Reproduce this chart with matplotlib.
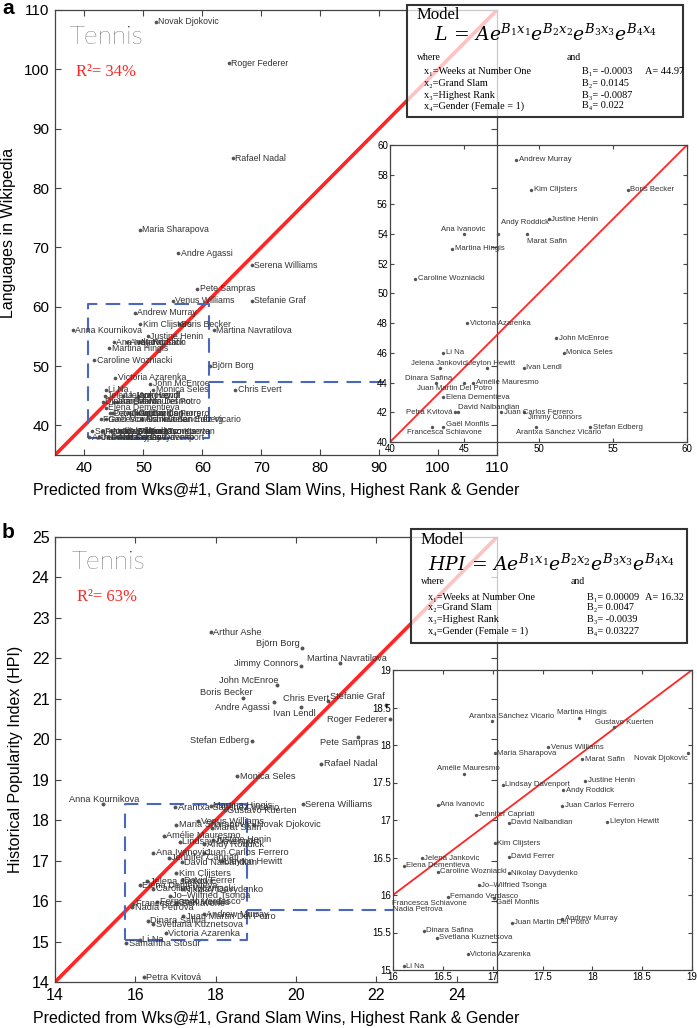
import matplotlib
matplotlib.use('Agg')
import matplotlib.pyplot as plt
from matplotlib.patches import Rectangle

plt.rcParams['font.family'] = ['Liberation Sans', 'DejaVu Sans']
plt.rcParams['mathtext.fontset'] = 'dejavuserif'

# ---------------- data ----------------
players = [
    "Arthur Ashe", "Björn Borg", "Jimmy Connors", "Martina Navratilova", "John McEnroe",
    "Boris Becker", "Andre Agassi", "Chris Evert", "Stefanie Graf", "Ivan Lendl",
    "Roger Federer", "Stefan Edberg", "Pete Sampras", "Rafael Nadal", "Monica Seles",
    "Anna Kournikova", "Serena Williams", "Novak Djokovic", "Arantxa Sánchez Vicario",
    "Martina Hingis", "Gustavo Kuerten", "Venus Williams", "Maria Sharapova", "Marat Safin",
    "Amélie Mauresmo", "Lindsay Davenport", "Justine Henin", "Andy Roddick", "Ana Ivanovic",
    "Juan Carlos Ferrero", "Jennifer Capriati", "David Nalbandian", "Lleyton Hewitt",
    "Kim Clijsters", "David Ferrer", "Jelena Jankovic", "Elena Dementieva",
    "Caroline Wozniacki", "Nikolay Davydenko", "Jo–Wilfried Tsonga", "Fernando Verdasco",
    "Gaël Monfils", "Francesca Schiavone", "Nadia Petrova", "Juan Martin Del Potro",
    "Andrew Murray", "Dinara Safina", "Svetlana Kuznetsova", "Victoria Azarenka", "Li Na",
    "Samantha Stosur", "Petra Kvitová",
]

# Panel a: predicted vs. number of Wikipedia language editions
lang_pred = [
    40.8, 61.3, 49.0, 61.9, 51.2,
    56.0, 55.9, 65.6, 68.4, 49.0,
    64.5, 53.5, 59.1, 65.2, 51.7,
    38.0, 68.4, 52.1, 49.8,
    44.2, 50.5, 55.0, 49.4, 49.2,
    45.6, 47.5, 50.7, 47.3, 45.0,
    47.5, 42.5, 44.6, 46.5,
    49.5, 44.0, 43.4, 43.6,
    41.7, 45.5, 46.0, 43.0,
    43.6, 42.8, 44.5, 45.0,
    48.5, 43.1, 47.0, 45.2, 43.6,
    41.3, 44.4,
]
lang_actual = [
    38, 50, 42, 56, 47,
    57, 69, 46, 61, 45,
    101, 41, 63, 85, 46,
    56, 67, 108, 41,
    53, 39, 61, 73, 54,
    44, 38, 55, 54, 54,
    42, 38, 42, 45,
    57, 38, 45, 43,
    51, 38, 39, 39,
    41, 41, 39, 44,
    59, 44, 39, 48, 46,
    39, 42,
]

# Panel b: predicted vs. Historical Popularity Index
hpi_pred = [
    17.88, 20.14, 20.12, 21.09, 19.52,
    18.68, 19.45, 20.79, 22.23, 20.12,
    22.33, 18.90, 21.54, 20.62, 18.53,
    15.19, 20.17, 18.96, 16.99,
    17.87, 18.22, 17.56, 17.02, 17.90,
    16.71, 17.10, 17.93, 17.71, 16.45,
    17.70, 16.83, 17.16, 18.15,
    17.02, 17.16, 16.29, 16.11,
    16.45, 17.16, 16.86, 16.55,
    17.01, 15.95, 15.92, 17.19,
    17.70, 16.31, 16.44, 16.75, 16.11,
    15.77, 16.21,
]
hpi_actual = [
    22.65, 22.26, 21.81, 21.89, 21.34,
    21.02, 20.92, 20.95, 20.85, 20.80,
    20.50, 19.96, 20.06, 19.39, 19.09,
    18.40, 18.40, 17.89, 18.32,
    18.36, 18.24, 17.97, 17.89, 17.81,
    17.62, 17.47, 17.52, 17.40, 17.20,
    17.19, 17.07, 16.96, 16.98,
    16.69, 16.51, 16.49, 16.39,
    16.31, 16.29, 16.13, 15.98,
    15.96, 15.93, 15.85, 15.63,
    15.68, 15.52, 15.43, 15.21, 15.05,
    14.96, 14.12,
]

lang_eq = r'$L\,=\,Ae^{B_1x_1}e^{B_2x_2}e^{B_3x_3}e^{B_4x_4}$'
hpi_eq = r'$HPI\,=\,Ae^{B_1x_1}e^{B_2x_2}e^{B_3x_3}e^{B_4x_4}$'
var_lines = ["x₁=Weeks at Number One", "x₂=Grand Slam", "x₃=Highest Rank", "x₄=Gender (Female = 1)"]
lang_coefs = ["B₁= -0.0003", "B₂= 0.0145", "B₃= -0.0087", "B₄= 0.022"]
lang_A = "A= 44.97"
hpi_coefs = ["B₁= 0.00009", "B₂= 0.0047", "B₃= -0.0039", "B₄= 0.03227"]
hpi_A = "A= 16.32"
lang_r2 = "R²= 34%"
hpi_r2 = "R²= 63%"

# ---------------- styling / layout ----------------
W, H = 697, 1028
fig = plt.figure(figsize=(W / 100, H / 100), dpi=100)


def fx(px):
    return px / W


def fy(py):
    return 1 - py / H


def axes_px(x0, y0, x1, y1):
    return [fx(x0), fy(y1), fx(x1) - fx(x0), fy(y0) - fy(y1)]


RED = '#ff2525'
BLUE = '#4a68c0'
DOT = '#555555'
TXT = '#333333'
SPINE = '#444444'
SERIF = ['Liberation Serif', 'DejaVu Serif']

# label offsets in points: (dx, dy, ha)
main_a_off = {}
inset_a_off = {
    "Andy Roddick": (2, 8.5, 'left'),
    "Marat Safin": (0, -5, 'left'),
    "Ana Ivanovic": (-17, 3, 'left'),
    "Jelena Jankovic": (-21.5, 3, 'left'),
    "Lleyton Hewitt": (-14.5, 3, 'left'),
    "Dinara Safina": (-22, 3, 'left'),
    "Juan Martin Del Potro": (-34, -4.3, 'left'),
    "Petra Kvitová": (-2, 0, 'right'),
    "David Nalbandian": (0, 3.6, 'left'),
    "Jimmy Connors": (3, -3.6, 'left'),
    "Gaël Monfils": (2, 2, 'left'),
    "Francesca Schiavone": (-18, -3.6, 'left'),
    "Arantxa Sánchez Vicario": (-14, -3.6, 'left'),
}
main_b_off = {
    "Björn Borg": (-1.5, 3, 'right'),
    "Jimmy Connors": (-1.5, 2, 'right'),
    "Martina Navratilova": (-24, 3, 'left'),
    "John McEnroe": (1.5, 3, 'right'),
    "Boris Becker": (7, 4, 'right'),
    "Andre Agassi": (-3, -4, 'right'),
    "Chris Evert": (1, 2, 'right'),
    "Stefanie Graf": (-1, 6, 'right'),
    "Ivan Lendl": (-20, -5, 'left'),
    "Roger Federer": (-2, 0, 'right'),
    "Stefan Edberg": (-2, 0, 'right'),
    "Pete Sampras": (-27, -4, 'left'),
    "Anna Kournikova": (-24, 3, 'left'),
}
inset_b_off = {
    "Arantxa Sánchez Vicario": (-16.5, 3.6, 'left'),
    "Martina Hingis": (-16, 3.6, 'left'),
    "Gustavo Kuerten": (-14, 3.6, 'left'),
    "Amélie Mauresmo": (-19, 3.6, 'left'),
    "Gaël Monfils": (2, -3.6, 'left'),
    "Francesca Schiavone": (3, -2, 'left'),
    "Nadia Petrova": (6, -2, 'left'),
    "Novak Djokovic": (0, -3.5, 'right'),
}
inset_b_force = {"Francesca Schiavone", "Nadia Petrova"}


def style_axes(ax, labelsize, length, pad):
    ax.tick_params(direction='in', top=True, right=True, length=length, width=0.8,
                   labelsize=labelsize, colors='black', pad=pad)
    ax.tick_params(axis='both', color=SPINE)
    for s in ax.spines.values():
        s.set_color(SPINE)
        s.set_linewidth(0.9)


def draw_points(ax, xs, ys, offs, fs, ms, force=()):
    ax.scatter(xs, ys, s=ms, color=DOT, zorder=4, linewidths=0)
    for n, x, y in zip(players, xs, ys):
        dx, dy, ha = offs.get(n, (1.8, 0, 'left'))
        ax.annotate(n, (x, y), xytext=(dx, dy), textcoords='offset points', ha=ha,
                    va='center', fontsize=fs, color=TXT, zorder=5,
                    annotation_clip=(False if n in force else None))


def model_box(x0, y0, x1, y1, eq, eq_xy, coefs, A, rows):
    fig.patches.append(Rectangle((fx(x0), fy(y1)), fx(x1) - fx(x0), fy(y0) - fy(y1),
                                 transform=fig.transFigure, facecolor='white', alpha=0.72,
                                 edgecolor='none', zorder=6))
    fig.patches.append(Rectangle((fx(x0), fy(y1)), fx(x1) - fx(x0), fy(y0) - fy(y1),
                                 transform=fig.transFigure, facecolor='none',
                                 edgecolor='#333333', linewidth=1.5, zorder=7))
    fig.text(fx(rows['mx']), fy(rows['my']), "Model", fontsize=12, family=SERIF,
             ha='left', va='center', zorder=8)
    fig.text(fx(eq_xy[0]), fy(eq_xy[1]), eq, fontsize=13.5, ha='center', va='center',
             zorder=8)
    fig.text(fx(rows['mx']), fy(rows['wy']), "where", fontsize=7, family=SERIF,
             ha='left', va='center', zorder=8)
    fig.text(fx(rows['ax']), fy(rows['wy']), "and", fontsize=7, family=SERIF,
             ha='left', va='center', zorder=8)
    for i, (v, c) in enumerate(zip(var_lines, coefs)):
        yy = rows['ly'][i]
        fig.text(fx(rows['lx']), fy(yy), v, fontsize=7.4, family=SERIF, ha='left',
                 va='center', zorder=8)
        fig.text(fx(rows['cx']), fy(yy), c, fontsize=7.4, family=SERIF, ha='left',
                 va='center', zorder=8)
    fig.text(fx(rows['Ax']), fy(rows['ly'][0]), A, fontsize=7.4, family=SERIF, ha='left',
             va='center', zorder=8)


def dashed_box(ax, x0, x1, y0, y1, yc, xc_end):
    kw = dict(color=BLUE, lw=1.5, dashes=(7, 4), zorder=3)
    ax.plot([x0, x1, x1, x0, x0], [y0, y0, y1, y1, y0], **kw)
    ax.plot([x1, xc_end], [yc, yc], **kw)


# ================= Panel a =================
ax_a = fig.add_axes(axes_px(55, 10, 497, 455))
lim_a = (35, 110)
ax_a.set_xlim(lim_a)
ax_a.set_ylim(lim_a)
ax_a.plot(lim_a, lim_a, color=RED, lw=2.6, zorder=2)
draw_points(ax_a, lang_pred, lang_actual, main_a_off, 6.3, 7)
ax_a.set_xticks(range(40, 111, 10))
ax_a.set_yticks(range(40, 111, 10))
style_axes(ax_a, 11, 4, 4)
ax_a.set_xlabel("Predicted from Wks@#1, Grand Slam Wins, Highest Rank & Gender",
                fontsize=11.5, labelpad=6)
ax_a.set_ylabel("Languages in Wikipedia", fontsize=11.5, labelpad=6)
ax_a.text(0.034, 0.94, "Tennis", transform=ax_a.transAxes, fontsize=19,
          family=['Lato', 'Liberation Sans'], fontweight='light', color='#111111',
          ha='left', va='center')
ax_a.text(0.047, 0.861, lang_r2, transform=ax_a.transAxes, fontsize=12,
          family=SERIF, color=RED, ha='left', va='center')
# connector reaches inset left edge (px 390)
xc_a = lim_a[0] + (390 - 55) / (497 - 55) * (lim_a[1] - lim_a[0])
dashed_box(ax_a, 40.6, 61.1, 37.8, 60.5, 47.3, xc_a)

ins_a = fig.add_axes(axes_px(390, 145, 687, 442))
ins_a.set_facecolor('none')
ins_a.set_xlim(40, 60)
ins_a.set_ylim(40, 60)
ins_a.plot([40, 60], [40, 60], color=RED, lw=1.3, zorder=2)
draw_points(ins_a, lang_pred, lang_actual, inset_a_off, 5.6, 6)
ins_a.set_xticks(range(40, 61, 5))
ins_a.set_yticks(range(40, 61, 2))
style_axes(ins_a, 7, 3, 1.5)

model_box(407, 5, 683, 117, lang_eq, (546, 34), lang_coefs, lang_A,
          dict(mx=417, my=15, wy=57, ax=567, lx=424, cx=582, Ax=645,
               ly=[72, 83, 95, 106]))

fig.text(fx(2), fy(8), "a", fontsize=15, fontweight='bold', ha='left', va='center')

# ================= Panel b =================
ax_b = fig.add_axes(axes_px(55, 537, 497, 982))
lim_b = (14, 25)
ax_b.set_xlim(lim_b)
ax_b.set_ylim(lim_b)
ax_b.plot(lim_b, lim_b, color=RED, lw=2.6, zorder=2)
draw_points(ax_b, hpi_pred, hpi_actual, main_b_off, 6.7, 8)
ax_b.set_xticks(range(14, 25, 2))
ax_b.set_yticks(range(14, 26, 1))
style_axes(ax_b, 11.5, 4, 4)
ax_b.set_xlabel("Predicted from Wks@#1, Grand Slam Wins, Highest Rank & Gender",
                fontsize=11.5, labelpad=6)
ax_b.set_ylabel("Historical Popularity Index (HPI)", fontsize=11.5, labelpad=6)
ax_b.text(0.038, 0.944, "Tennis", transform=ax_b.transAxes, fontsize=19,
          family=['Lato', 'Liberation Sans'], fontweight='light', color='#111111',
          ha='left', va='center')
ax_b.text(0.05, 0.865, hpi_r2, transform=ax_b.transAxes, fontsize=12,
          family=SERIF, color=RED, ha='left', va='center')
xc_b = lim_b[0] + (393 - 55) / (497 - 55) * (lim_b[1] - lim_b[0])
dashed_box(ax_b, 15.74, 18.77, 15.04, 18.4, 15.78, xc_b)

ins_b = fig.add_axes(axes_px(393, 670, 692, 970))
ins_b.set_facecolor('none')
ins_b.set_xlim(16, 19)
ins_b.set_ylim(15, 19)
ins_b.plot([16, 19], [16, 19], color=RED, lw=1.3, zorder=2)
draw_points(ins_b, hpi_pred, hpi_actual, inset_b_off, 5.6, 6, force=inset_b_force)
ins_b.set_xticks([16, 16.5, 17, 17.5, 18, 18.5, 19])
ins_b.set_xticklabels(["16", "16.5", "17", "17.5", "18", "18.5", "19"])
ins_b.set_yticks([15, 15.5, 16, 16.5, 17, 17.5, 18, 18.5, 19])
ins_b.set_yticklabels(["15", "15.5", "16", "16.5", "17", "17.5", "18", "18.5", "19"])
style_axes(ins_b, 7, 3, 1.5)

model_box(411, 529, 687, 643, hpi_eq, (552, 564), hpi_coefs, hpi_A,
          dict(mx=421, my=540, wy=582, ax=571, lx=428, cx=587, Ax=645,
               ly=[597, 608, 620, 631]))

fig.text(fx(2), fy(532), "b", fontsize=15, fontweight='bold', ha='left', va='center')

fig.savefig("out.png", dpi=100)
